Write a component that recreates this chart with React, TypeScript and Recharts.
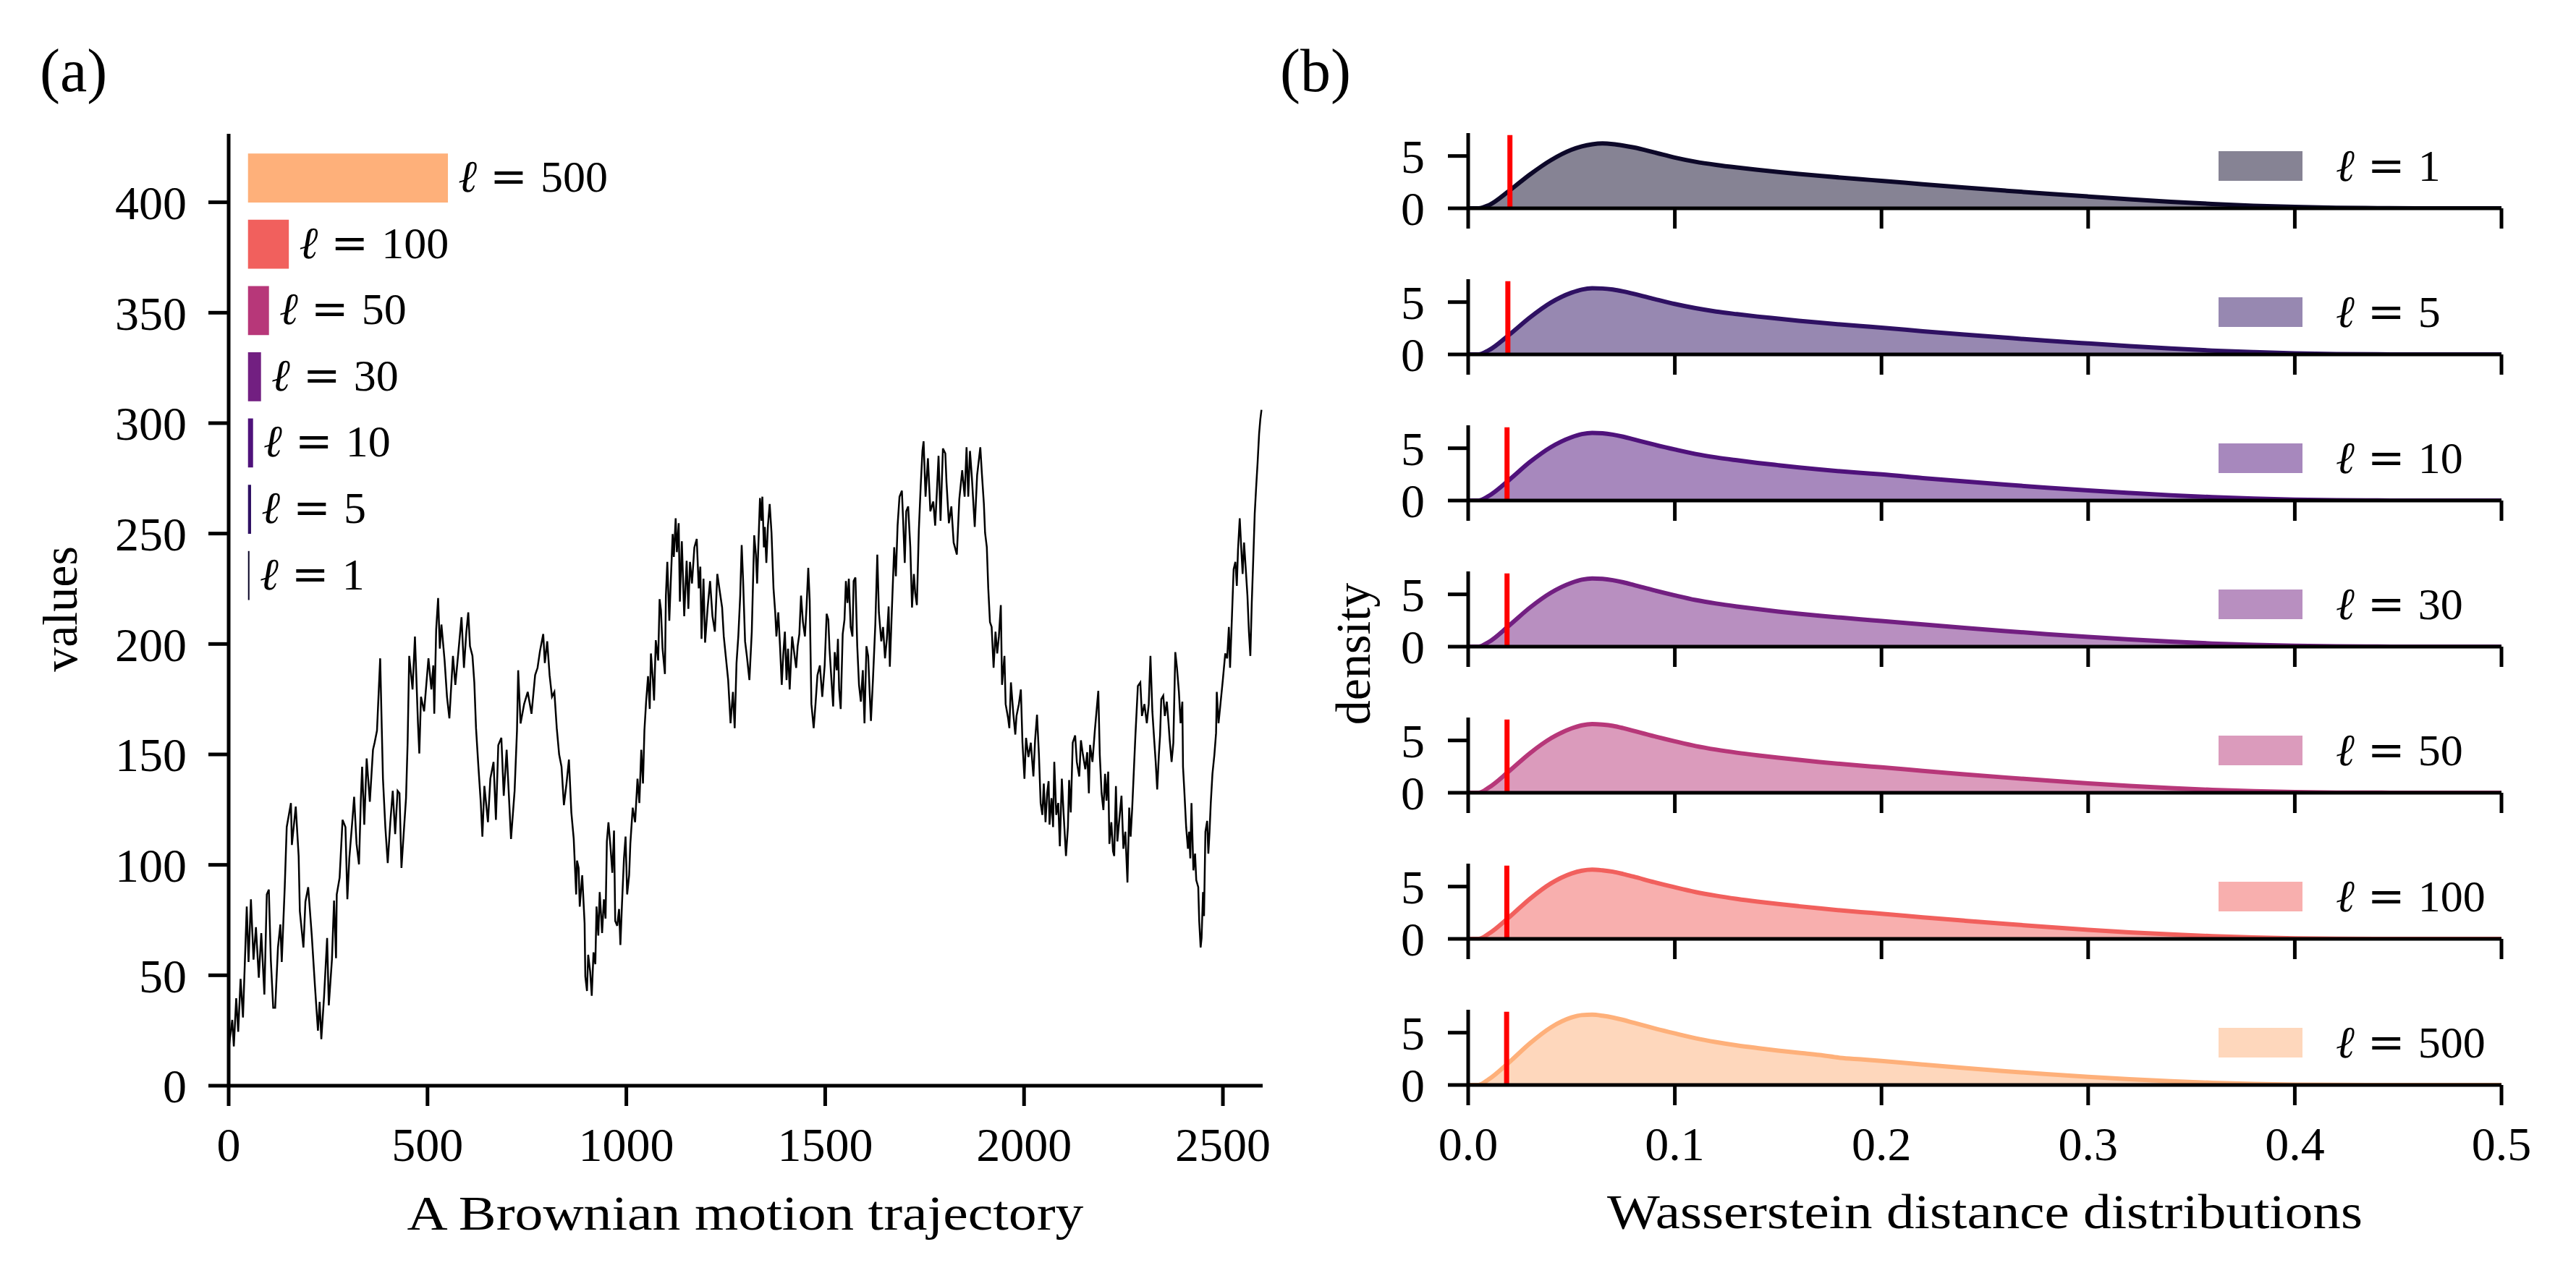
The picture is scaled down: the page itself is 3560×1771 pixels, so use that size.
import { ComposedChart, AreaChart, Line, Area, XAxis, YAxis, ReferenceArea, ReferenceLine } from 'recharts';

// =============================================================================
// Data
// =============================================================================

/** Brownian motion trajectory as [step, value] pairs */
const pathPoints: [number, number][] = [
  [0, 16.7], [9, 29.8], [13, 17.8], [19, 39.6], [24, 24.4], [30, 48.4], [36, 30.9], [45.5, 81.1],
  [50, 56], [56, 84.4], [62.5, 57.1], [68.6, 71.8], [75.8, 48.9], [82, 69.1], [89.8, 41.3], [95.9, 86.6],
  [101, 88.8], [106, 57.1], [112, 35.3], [117, 35.3], [124, 62.6], [130, 73], [133.5, 56], [141, 89.9],
  [146, 117.1], [156.6, 128], [159, 109], [168.7, 126.4], [176, 104], [179, 79], [188, 62.6], [193, 83.3],
  [200, 89.9], [209, 68], [217, 45.1], [224.5, 24.9], [228.8, 38], [233, 21.1], [240, 40.7], [247.6, 66.9],
  [251.8, 36.4], [259.7, 57.1], [265, 83.8], [270, 57.7], [271.8, 86.6], [279, 94.2], [286.4, 120.4], [293.7, 117.1],
  [298.5, 84.4], [303.4, 103], [310.7, 119.3], [315.5, 130.8], [321.6, 109.5], [327.7, 100.2], [332.5, 130.2], [335.6, 144.4],
  [341, 118.2], [347, 148.2], [355, 128.6], [362.9, 152.1], [367, 155.3], [373, 160.8], [381, 193.5], [385, 161.9],
  [388, 139], [394, 117], [400, 100.8], [406.5, 119.3], [412.6, 133.5], [418.7, 113.9], [424.8, 133.5], [429.6, 132.4],
  [434.5, 98.6], [440, 113.9], [446, 130.2], [450, 155.3], [454, 194.6], [462.4, 179.4], [468.4, 203.4], [476, 164.1],
  [479.4, 150.4], [483.6, 176.1], [491.5, 169.5], [502.4, 193.5], [509.7, 179.4], [514.6, 190.3], [517, 168.4], [521.8, 206.6],
  [526.7, 220.8], [531, 197.9], [535, 208.8], [543, 192.5], [549, 176.1], [555, 166.3], [564, 194.6], [570, 181.5],
  [579.5, 200.1], [585.5, 212.1], [591.6, 189.2], [597.7, 205.5], [602.5, 214.3], [606.8, 199], [613, 194.6], [617.7, 182.6],
  [622, 161.9], [628, 144.4], [634, 128], [638, 112.8], [643, 135.7], [652, 119.3], [658, 139], [666, 146.6],
  [672, 120.4], [678, 154.2], [685.7, 157.5], [691.7, 131.3], [699, 152.1], [710, 111.7], [719, 133.5], [725, 160.8],
  [728, 188.1], [734, 164], [743, 172.8], [752, 178.3], [761.5, 168.4], [770.6, 185.9], [776.7, 189.2], [782.8, 196.8],
  [791, 204.5], [795, 191.4], [801, 201.2], [807, 185.9], [813, 176.1], [819, 178.3], [825, 161.9], [831, 150],
  [837, 144.4], [843, 127], [849.5, 136.8], [855.6, 147.7], [861.7, 123.7], [867.7, 111.7], [871, 98], [873.8, 86.6],
  [876, 101.9], [880, 98.6], [882.8, 81.1], [889, 95.3], [895, 73.5], [896.8, 49.5], [901, 42.9], [904, 59.3],
  [909, 51.7], [913, 40.7], [917.4, 60.4], [922, 55], [925, 81.1], [929.5, 68], [933, 87.7], [939, 69.1],
  [943.5, 84.4], [947.7, 75.7], [951, 110.6], [955, 119.3], [960, 108.4], [964.7, 96.4], [969, 115.5], [972, 74.6],
  [977, 72.4], [981.7, 80], [985, 63.7], [989, 82.2], [994, 102.9], [998, 112.8], [1002, 86.6], [1007, 95.3],
  [1010, 109.5], [1016, 125.9], [1022, 119.3], [1028, 139], [1032.7, 128], [1037.5, 152.1], [1041.8, 136.8], [1045.4, 160.8],
  [1049.7, 173.9], [1054.5, 185.4], [1058.8, 170.6], [1061.8, 195.7], [1066.7, 183.7], [1069.7, 174.4], [1074, 201.7], [1080, 192.5],
  [1083.6, 220.3], [1087, 215.4], [1091, 197.9], [1097, 186.4], [1099.4, 221.9], [1103, 237.2], [1108, 210.5], [1112, 229.6],
  [1116.4, 249.8], [1119.4, 239.4], [1124, 256.9], [1127, 241.6], [1131.6, 254.7], [1134.6, 219.2], [1139.5, 246.5], [1145.5, 212.6],
  [1151.6, 237.7], [1155.9, 215.9], [1160, 237.2], [1165, 227.4], [1171, 243.7], [1177, 247.6], [1182, 225.2], [1186, 235],
  [1189, 202.3], [1194, 229.6], [1198, 200.6], [1204.4, 216.5], [1210.5, 228.5], [1216.5, 212.6], [1222.6, 205.6], [1228.7, 231.7],
  [1234.7, 224.1], [1240.8, 216.5], [1245, 203.4], [1249.9, 194.6], [1256, 183.7], [1262, 164.1], [1268, 178.3], [1272.4, 161.9],
  [1277, 191.4], [1281.5, 203.4], [1286.3, 221.9], [1290, 244.8], [1293.6, 228.5], [1298.5, 201.2], [1303, 194.6], [1309.4, 183.7],
  [1315.4, 205.6], [1321.5, 249.2], [1325.7, 240.5], [1328.8, 227.4], [1331.8, 243.8], [1336, 266.1], [1339.7, 255.8], [1342, 266.7],
  [1345.8, 243.8], [1348.2, 253], [1352, 236.7], [1356, 253.6], [1360.4, 263.4], [1365, 250.3], [1370, 225.2], [1374.3, 214.3],
  [1377.3, 203.4], [1382, 214.3], [1386.4, 199], [1390.7, 181.5], [1394.3, 194.6], [1398.6, 205.6], [1402.8, 183.7], [1406.5, 197.9],
  [1410.7, 179.4], [1416.8, 203.4], [1423, 194.6], [1427, 189.2], [1430.7, 199], [1435, 204.5], [1439.2, 221.9], [1444, 210],
  [1449, 203.4], [1453, 216.5], [1457.4, 234.5], [1461, 219.7], [1465.3, 172.8], [1471, 161.9], [1475.6, 172.8], [1480.5, 185.9],
  [1486.6, 190.3], [1492.6, 176.1], [1498.7, 190.3], [1503.6, 213.7], [1507.8, 211], [1510.8, 197.9], [1515.7, 183.7], [1520, 171.7],
  [1524, 196.3], [1529, 188.1], [1532, 202.3], [1535, 179.4], [1539, 170.6], [1544, 204.5], [1548.5, 211], [1552, 228.5],
  [1556, 218.6], [1559.4, 229.6], [1564, 207.7], [1568.5, 203.4], [1571.5, 228.5], [1576, 230.1], [1580.6, 199], [1585, 181.5],
  [1589.7, 173.9], [1594.6, 188.1], [1598.8, 164.1], [1603.7, 199], [1608, 194.6], [1612, 177.2], [1615, 165.2], [1620, 183.7],
  [1626, 208.8], [1631, 240.5], [1635, 214.3], [1641, 201.2], [1645.5, 207.7], [1650.4, 193.5], [1655, 202.3], [1659.5, 217],
  [1662.5, 189.7], [1667.4, 214.3], [1673.5, 243.8], [1677.7, 230.7], [1682, 253.6], [1686.8, 266.7], [1692.8, 269.4], [1696, 255.8],
  [1700, 236.7], [1703.8, 260.1], [1708.6, 262.3], [1714, 243.8], [1718.3, 216.5], [1723, 231.7], [1726.3, 223], [1730.5, 217.6],
  [1735.4, 251.4], [1740, 271], [1744.5, 287.4], [1747.4, 291.8], [1752.3, 266.7], [1758.3, 284.1], [1764.4, 260.1], [1771.7, 264.5],
  [1776.5, 253.6], [1780.8, 268.9], [1785, 285.2], [1790, 255.8], [1796, 288.5], [1802, 286.3], [1805, 273.2], [1811, 254.7],
  [1817.2, 262.3], [1823, 245.9], [1831, 240.5], [1837.2, 265.6], [1844.5, 278.7], [1850.6, 266.7], [1855.4, 289.1], [1859.7, 266.7],
  [1864, 287.4], [1868.8, 275.4], [1876, 253], [1882, 276.5], [1890, 289.1], [1894.2, 276.5], [1899, 263.4], [1902, 250.3],
  [1906.4, 243.8], [1910, 225.2], [1914.3, 209.9], [1918.5, 207.7], [1923.4, 189.2], [1928.2, 205.6], [1932.5, 195.7], [1936.7, 203.4],
  [1941.6, 217.6], [1944.6, 181.5], [1950.7, 194.6], [1953.7, 172.8], [1960, 166.3], [1963, 161.9], [1967, 182.6], [1973, 168.4],
  [1978, 159], [1981, 167.4], [1987, 172.8], [1992, 179.4], [1996, 155.3], [2001, 139], [2005, 157.5], [2011, 148.8],
  [2017, 155.3], [2023.5, 140], [2027.7, 156.4], [2032.6, 168], [2037.4, 149.9], [2041.7, 128], [2046, 122.6], [2049.6, 136.8],
  [2054, 119.3], [2058, 132.4], [2061.7, 137.9], [2064, 118.2], [2069, 130.2], [2073, 117.1], [2076, 146.6], [2081, 122.6],
  [2086, 128], [2090, 108.4], [2095, 139], [2099.3, 123.7], [2105.4, 104], [2110.3, 117.1], [2113.3, 138.4], [2117.5, 123.7],
  [2122.4, 155.3], [2128.5, 158.6], [2132.7, 146.6], [2138.8, 140], [2143, 156.4], [2148, 149.9], [2154, 143.3], [2158.8, 151],
  [2163, 132.4], [2166, 154.3], [2172, 146.6], [2178, 160.8], [2186.7, 178.8], [2190.4, 149.9], [2195, 132.4], [2199.5, 124.8],
  [2203.7, 141.2], [2207.3, 129.1], [2211.6, 142.2], [2214.6, 109.5], [2219.5, 119.3], [2223.7, 106.2], [2226.7, 104], [2231, 135.7],
  [2234.6, 110.6], [2238.9, 119.3], [2245, 131.3], [2249.8, 107.3], [2254.7, 115], [2260, 92], [2264.4, 125.9], [2268, 112.8],
  [2272, 125.9], [2276.5, 144.4], [2280, 158.6], [2286.2, 181], [2292.3, 182.6], [2296.5, 167.4], [2302.6, 172.8], [2308.7, 164.1],
  [2313.5, 172.8], [2317.8, 194.6], [2322.6, 169.5], [2326.9, 157.5], [2331, 146.6], [2334.8, 134.1], [2339, 149.9], [2342, 158.6],
  [2345, 175], [2350, 176.6], [2354, 167.4], [2359, 173.9], [2363.3, 164.1], [2366.3, 156.4], [2371, 146.6], [2375.4, 155.3],
  [2380.3, 196.3], [2384.5, 189.2], [2389.4, 178.3], [2393.6, 164.1], [2398, 173.9], [2399.7, 144.4], [2402.7, 134.6], [2407.6, 117.1],
  [2412, 107.3], [2415, 115], [2418, 102.9], [2421, 128], [2425.8, 97.5], [2430, 105.1], [2433, 93.1], [2438, 89.9],
  [2440.4, 74.6], [2444, 62.6], [2446.4, 66.9], [2450, 87.7], [2452.5, 76.8], [2456, 115], [2460.4, 119.9], [2463.4, 105.1],
  [2466.4, 115], [2469.5, 128], [2473.7, 141.2], [2478.6, 149.9], [2482.8, 159.7], [2484.6, 178.3], [2489, 164.1], [2493.8, 172.8],
  [2499.8, 183.7], [2505.9, 195.7], [2510.7, 193.5], [2515, 207.7], [2518, 189.2], [2522.9, 213.2], [2527, 233.9], [2531.4, 237.2],
  [2535, 226.3], [2538, 242.7], [2542.3, 256.9], [2546, 243.8], [2549.6, 231.7], [2553.2, 245.9], [2557.5, 233.9], [2561.7, 221.9],
  [2565.4, 205.6], [2569, 194.6], [2572.6, 218.7], [2576.3, 238.3], [2580, 259], [2583.6, 271], [2587.2, 282], [2591, 295.1],
  [2594, 301.6], [2597, 306],
];

const stepTicks = [0, 500, 1000, 1500, 2000, 2500];
const valueTicks = [0, 50, 100, 150, 200, 250, 300, 350, 400];

/** Sliding window lengths, drawn as bars of matching width on the step axis */
const windowLengths = [500, 100, 50, 30, 10, 5, 1];
const windowCenters = [411, 381, 351, 321, 291, 261, 231];
const windowStart = 50;
const windowHalfHeight = 10.85;

/** Wasserstein distance grid and densities per window length */
const distanceGrid = [
  0, 0.005, 0.01, 0.02, 0.03, 0.04, 0.05, 0.055, 0.06, 0.065, 0.07, 0.075, 0.08, 0.09, 0.1, 0.11, 0.12, 0.13,
  0.14, 0.15, 0.16, 0.17, 0.18, 0.19, 0.2, 0.22, 0.24, 0.26, 0.28, 0.3, 0.32, 0.34, 0.36, 0.38, 0.4, 0.42,
  0.44, 0.46, 0.5,
];
const densityL1 = [
  0, 0, 0.3, 1.7, 3.25, 4.6, 5.6, 5.92, 6.12, 6.2, 6.14, 6.0, 5.82, 5.35, 4.85, 4.45, 4.15, 3.9,
  3.68, 3.48, 3.29, 3.11, 2.94, 2.78, 2.63, 2.3, 1.99, 1.69, 1.4, 1.13, 0.87, 0.63, 0.42, 0.25, 0.13, 0.05,
  0.02, 0, 0,
];
const densityL5 = [
  0, 0, 0.4, 1.9, 3.55, 4.95, 5.9, 6.2, 6.32, 6.3, 6.2, 6.02, 5.8, 5.3, 4.82, 4.42, 4.1, 3.85,
  3.62, 3.42, 3.22, 3.04, 2.87, 2.71, 2.56, 2.22, 1.9, 1.6, 1.31, 1.05, 0.8, 0.57, 0.37, 0.22, 0.1, 0.04,
  0.01, 0, 0,
];
const densityL10 = [
  0, 0, 0.45, 2.0, 3.7, 5.1, 6.05, 6.35, 6.47, 6.43, 6.3, 6.1, 5.85, 5.35, 4.88, 4.45, 4.12, 3.85,
  3.6, 3.38, 3.17, 2.98, 2.8, 2.64, 2.5, 2.15, 1.83, 1.52, 1.23, 0.97, 0.73, 0.51, 0.33, 0.19, 0.09, 0.03,
  0.01, 0, 0,
];
const densityL30 = [
  0, 0, 0.45, 2.05, 3.75, 5.15, 6.1, 6.4, 6.52, 6.48, 6.35, 6.15, 5.9, 5.38, 4.9, 4.46, 4.12, 3.84,
  3.59, 3.36, 3.15, 2.96, 2.78, 2.61, 2.46, 2.12, 1.8, 1.49, 1.2, 0.93, 0.69, 0.48, 0.3, 0.17, 0.08, 0.03,
  0.01, 0, 0,
];
const densityL50 = [
  0, 0, 0.5, 2.1, 3.8, 5.2, 6.15, 6.45, 6.57, 6.52, 6.4, 6.18, 5.92, 5.4, 4.92, 4.47, 4.12, 3.83,
  3.58, 3.35, 3.14, 2.94, 2.76, 2.59, 2.44, 2.09, 1.77, 1.46, 1.17, 0.9, 0.66, 0.45, 0.28, 0.16, 0.07, 0.02,
  0.01, 0, 0,
];
const densityL100 = [
  0, 0, 0.5, 2.1, 3.85, 5.3, 6.25, 6.52, 6.62, 6.55, 6.42, 6.2, 5.95, 5.42, 4.93, 4.48, 4.12, 3.82,
  3.56, 3.33, 3.12, 2.92, 2.73, 2.56, 2.41, 2.06, 1.74, 1.43, 1.14, 0.87, 0.63, 0.43, 0.26, 0.14, 0.06, 0.02,
  0, 0, 0,
];
const densityL500 = [
  0, 0, 0.55, 2.2, 4.0, 5.5, 6.45, 6.68, 6.72, 6.62, 6.45, 6.22, 5.95, 5.42, 4.93, 4.47, 4.1, 3.79,
  3.53, 3.29, 3.07, 2.87, 2.6, 2.45, 2.3, 1.96, 1.63, 1.32, 1.03, 0.77, 0.55, 0.36, 0.21, 0.11, 0.04, 0.01,
  0, 0, 0,
];

const distributionLengths = [1, 5, 10, 30, 50, 100, 500];
const distributionSeries = [densityL1, densityL5, densityL10, densityL30, densityL50, densityL100, densityL500];
/** Observed distance for each window length (red marker) */
const observedDistance = [0.0202, 0.0192, 0.0188, 0.0188, 0.0188, 0.0187, 0.0186];

const distanceTicks = [0, 0.1, 0.2, 0.3, 0.4, 0.5];
const densityTicks = [0, 5];

// =============================================================================
// Style
// =============================================================================

const SERIF = '"Liberation Serif", "Times New Roman", serif';
const WIDE = '"DejaVu Serif", serif';

const WINDOW_COLORS: Record<number, string> = {
  1: '#0d0829',
  5: '#2f1163',
  10: '#4f127b',
  30: '#721f81',
  50: '#b73779',
  100: '#f1605d',
  500: '#feb07a',
};

const TICK_FONT = { fill: '#000', fontSize: 66, fontFamily: SERIF };
const AXIS_LINE = { stroke: '#000', strokeWidth: 5 };

const pathData = pathPoints.map(([step, value]) => ({ step, value }));

const densityData = distanceGrid.map((x, i) => {
  const row: Record<string, number> = { x };
  distributionLengths.forEach((len, k) => {
    row[`l${len}`] = distributionSeries[k][i];
  });
  return row;
});

// Right panel geometry: baselines of the stacked density plots
const PLOT_BASE = 288;
const PLOT_STEP = 202;
const PLOT_HEIGHT = 104;

// =============================================================================
// Components
// =============================================================================

/** "ℓ = n" label */
function EllText({ x, y, value }: { x: number; y: number; value: number }) {
  return (
    <text x={x} y={y} fontSize={62} fontFamily={SERIF} fill="#000">
      <tspan fontStyle="italic">ℓ</tspan>
      <tspan dx={18} fontFamily={WIDE}>=</tspan>
      <tspan dx={18}>{value}</tspan>
    </text>
  );
}

const windowTag = (len: number) => (props: any) => {
  const vb = props.viewBox || { x: 0, y: 0, width: 0, height: 0 };
  return <EllText x={vb.x + vb.width + 15} y={vb.y + vb.height / 2 + 19} value={len} />;
};

function TrajectoryPanel() {
  return (
    <ComposedChart
      width={1800}
      height={1771}
      data={pathData}
      margin={{ top: 185, right: 55, bottom: 0, left: 0 }}
    >
      <XAxis
        type="number"
        dataKey="step"
        domain={[0, 2600]}
        ticks={stepTicks}
        interval={0}
        height={270}
        stroke="#000"
        axisLine={AXIS_LINE}
        tickLine={AXIS_LINE}
        tickSize={28}
        tickMargin={29}
        tick={TICK_FONT}
        allowDataOverflow
      />
      <YAxis
        type="number"
        domain={[0, 431]}
        ticks={valueTicks}
        interval={0}
        width={316}
        stroke="#000"
        axisLine={AXIS_LINE}
        tickLine={AXIS_LINE}
        tickSize={28}
        tickMargin={30}
        tick={TICK_FONT}
        allowDataOverflow
      />
      <Line
        type="linear"
        dataKey="value"
        stroke="#000"
        strokeWidth={2.5}
        dot={false}
        isAnimationActive={false}
      />
      {windowLengths.map((len, i) => (
        <ReferenceArea
          key={`win-${len}`}
          x1={windowStart}
          x2={windowStart + len}
          y1={windowCenters[i] - windowHalfHeight}
          y2={windowCenters[i] + windowHalfHeight}
          fill={WINDOW_COLORS[len]}
          fillOpacity={1}
          stroke={WINDOW_COLORS[len]}
          strokeWidth={1.5}
          ifOverflow="visible"
          label={windowTag(len)}
        />
      ))}
    </ComposedChart>
  );
}

function DensityPlot({ index }: { index: number }) {
  const len = distributionLengths[index];
  const color = WINDOW_COLORS[len];
  const base = PLOT_BASE + PLOT_STEP * index;
  const isLast = index === distributionLengths.length - 1;
  const red = observedDistance[index];

  return (
    <div style={{ position: 'absolute', left: 1800, top: base - PLOT_HEIGHT - 40 }}>
      <AreaChart
        width={1760}
        height={40 + PLOT_HEIGHT + 140}
        data={densityData}
        margin={{ top: 40, right: 103, bottom: 0, left: 0 }}
      >
        <XAxis
          type="number"
          dataKey="x"
          domain={[0, 0.5]}
          ticks={distanceTicks}
          interval={0}
          height={140}
          stroke="#000"
          axisLine={AXIS_LINE}
          tickLine={AXIS_LINE}
          tickSize={28}
          tickMargin={29}
          tick={TICK_FONT}
          tickFormatter={(v: number) => (isLast ? v.toFixed(1) : '')}
          allowDataOverflow
        />
        <YAxis
          type="number"
          domain={[0, 7.19]}
          ticks={densityTicks}
          interval={0}
          width={229}
          stroke="#000"
          axisLine={AXIS_LINE}
          tickLine={AXIS_LINE}
          tickSize={28}
          tickMargin={32}
          tick={TICK_FONT}
          allowDataOverflow
        />
        <Area
          type="monotone"
          dataKey={`l${len}`}
          stroke={color}
          strokeWidth={6}
          fill={color}
          fillOpacity={0.5}
          dot={false}
          activeDot={false}
          isAnimationActive={false}
        />
        <ReferenceLine
          segment={[{ x: red, y: 0 }, { x: red, y: 7 }]}
          stroke="#ff0000"
          strokeWidth={7}
          ifOverflow="visible"
        />
      </AreaChart>
    </div>
  );
}

/** Panel letters, axis titles and the per-plot legend entries */
function Annotations() {
  return (
    <svg
      width={3560}
      height={1771}
      style={{ position: 'absolute', left: 0, top: 0, pointerEvents: 'none' }}
    >
      <text x={55} y={126} fontSize={84} fontFamily={SERIF} fill="#000">(a)</text>
      <text x={1769} y={126} fontSize={84} fontFamily={SERIF} fill="#000">(b)</text>

      <text
        transform="translate(106, 842) rotate(-90)"
        textAnchor="middle"
        fontSize={68}
        fontFamily={SERIF}
        fill="#000"
      >
        values
      </text>
      <text
        x={1030}
        y={1700}
        textAnchor="middle"
        fontSize={68}
        fontFamily={SERIF}
        fill="#000"
        textLength={935}
        lengthAdjust="spacingAndGlyphs"
      >
        A Brownian motion trajectory
      </text>

      <text
        transform="translate(1893, 904) rotate(-90)"
        textAnchor="middle"
        fontSize={68}
        fontFamily={SERIF}
        fill="#000"
      >
        density
      </text>
      <text
        x={2743}
        y={1698}
        textAnchor="middle"
        fontSize={68}
        fontFamily={SERIF}
        fill="#000"
        textLength={1044}
        lengthAdjust="spacingAndGlyphs"
      >
        Wasserstein distance distributions
      </text>

      {distributionLengths.map((len, i) => {
        const base = PLOT_BASE + PLOT_STEP * i;
        return (
          <g key={`legend-${len}`}>
            <rect x={3066} y={base - 79} width={116} height={41} fill={WINDOW_COLORS[len]} fillOpacity={0.5} />
            <EllText x={3228} y={base - 38} value={len} />
          </g>
        );
      })}
    </svg>
  );
}

export default function App() {
  return (
    <div
      style={{
        position: 'absolute',
        left: 0,
        top: 0,
        width: 3560,
        height: 1771,
        background: '#fff',
        overflow: 'hidden',
      }}
    >
      <div style={{ position: 'absolute', left: 0, top: 0 }}>
        <TrajectoryPanel />
      </div>
      {distributionLengths.map((len, i) => (
        <DensityPlot key={`density-${len}`} index={i} />
      ))}
      <Annotations />
    </div>
  );
}
